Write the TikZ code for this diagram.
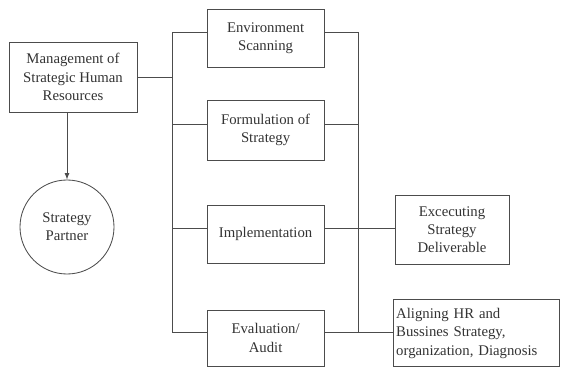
\documentclass[tikz,border=0pt]{standalone}
\usepackage{fontspec}
\setmainfont{Liberation Serif}

\begin{document}
\begin{tikzpicture}[
  box/.style={draw=black!70,line width=0.6pt,align=center,inner sep=2pt,text=black!80,font=\fontsize{10.5}{13}\selectfont},
  midbox/.style={box,minimum width=2.925cm,minimum height=1.45cm},
  link/.style={draw=black!70,line width=0.6pt}]
\useasboundingbox (0,0) rectangle (14.1,9.225);
% left column
\node[box,minimum width=3.2cm,minimum height=1.75cm] (mgmt) at (1.825,7.3) {Management of\\Strategic Human\\Resources};
\node[box,circle,minimum size=2.35cm] (partner) at (1.675,3.55) {Strategy\\Partner};
\draw[link,-latex] (partner.north |- mgmt.south) -- (partner.north);
% middle column
\node[midbox] (env) at (6.64,8.275) {Environment\\Scanning};
\node[midbox,minimum height=1.5cm] (form) at (6.64,5.975) {Formulation of\\Strategy};
\node[midbox] (impl) at (6.64,3.375) {Implementation};
\node[midbox,minimum height=1.4cm] (eval) at (6.64,0.775) {Evaluation/\\Audit};
% right column
\node[box,minimum width=2.85cm,minimum height=1.725cm] (exec) at (11.3,3.48) {Excecuting\\Strategy\\Deliverable};
\node[box,anchor=west,align=left,text width=4.0cm,minimum height=1.675cm] (align) at (9.825,0.89) {Aligning HR and\\Bussines Strategy,\\organization, Diagnosis};
% joints on the boxes
\foreach \n in {env,form,impl,eval}{
  \coordinate (\n-w) at ([yshift=1.4mm]\n.west);
  \coordinate (\n-e) at ([yshift=1.4mm]\n.east);
}
\coordinate (lbus) at (4.3,0);
\coordinate (rbus) at (8.95,0);
% left bus
\draw[link] (env-w -| lbus) -- (eval-w -| lbus);
\draw[link] (mgmt.east) -- (mgmt.east -| lbus);
\foreach \n in {env,form,impl,eval}{
  \draw[link] (\n-w) -- (\n-w -| lbus);
}
% right bus
\draw[link] (env-e -| rbus) -- (eval-e -| rbus);
\draw[link] (env-e) -- (env-e -| rbus);
\draw[link] (form-e) -- (form-e -| rbus);
\draw[link] (impl-e) -- (impl-e -| exec.west);
\draw[link] (eval-e) -- (eval-e -| align.west);
\end{tikzpicture}
\end{document}
